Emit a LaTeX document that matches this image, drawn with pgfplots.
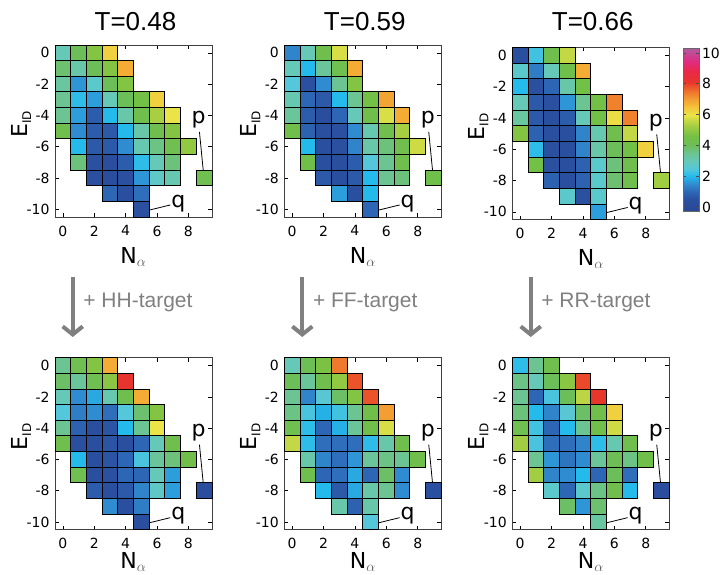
\documentclass[border=0pt]{standalone}
\usepackage{pgfplots}
\pgfplotsset{compat=1.18}
\usetikzlibrary{arrows.meta}
\usepackage{fontspec}
\setmainfont{Liberation Sans}
\newfontfamily\dv{DejaVu Sans}
\definecolor{arrgray}{RGB}{128,128,128}
\pgfplotsset{colormap={mymap}{
rgb255(0cm)=(40,70,150)
rgb255(0.8cm)=(43,80,160)
rgb255(1.3cm)=(45,102,180)
rgb255(1.8cm)=(48,140,208)
rgb255(2.3cm)=(36,186,236)
rgb255(2.8cm)=(84,199,218)
rgb255(3.3cm)=(102,201,184)
rgb255(3.8cm)=(108,196,146)
rgb255(4.3cm)=(108,190,88)
rgb255(4.9cm)=(116,192,68)
rgb255(5.6cm)=(168,207,66)
rgb255(6.3cm)=(234,228,72)
rgb255(6.8cm)=(245,194,58)
rgb255(7.3cm)=(243,158,50)
rgb255(7.8cm)=(238,112,44)
rgb255(8.4cm)=(232,54,42)
rgb255(9.1cm)=(233,40,74)
rgb255(9.7cm)=(226,42,126)
rgb255(10.6cm)=(176,92,160)
}}
\pgfplotsset{
  panel/.style={
    x=15.7pt, y=15.65pt,
    xmin=-0.5, xmax=9.5, ymin=-10.5, ymax=0.5,
    xtick={0,2,...,8}, ytick={-10,-8,...,0},
    tick align=inside, major tick length=4pt,
    tick style={black, line width=0.6pt},
    axis line style={line width=0.8pt, black!75},
    tick label style={font=\dv\fontsize{14}{16}\selectfont},
    xticklabel style={yshift=-5pt},
    yticklabel style={xshift=-2pt},
    /pgf/number format/assume math mode=true,
    xlabel={N{\color{black!65}$_{\alpha}$}},
    ylabel={E{\fontsize{12}{12}\selectfont\raisebox{-4pt}{ID}}},
    label style={font=\dv\fontsize{22}{24}\selectfont},
    xlabel style={at={([yshift=-46pt]axis description cs:0.5,0)}, anchor=base},
    ylabel style={at={([xshift=-28pt]axis description cs:0,0.54)}, anchor=base, rotate=0},
    colormap name=mymap, point meta min=-0.3, point meta max=10.3,
    anchor=north west,
  },
  lowpanel/.style={panel,
    xlabel style={at={([yshift=-39pt]axis description cs:0.5,0)}, anchor=base}},
  cells/.style={scatter, only marks, mark=square*, mark size=7.85pt,
    point meta=\thisrow{c},
    scatter/use mapped color={draw=black, fill=mapped color},
    mark options={line width=0.9pt}},
}
\newcommand{\pq}{%
  \node[font=\dv\fontsize{22}{24}\selectfont] at (axis cs:8.65,-4.3) {p};
  \draw[line width=0.8pt] (axis cs:8.7,-5.05) -- (axis cs:9.0,-8.1);
  \node[font=\dv\fontsize{22}{24}\selectfont] at (axis cs:7.35,-9.62) {q};
  \draw[line width=0.8pt] (axis cs:5.1,-10.15) -- (axis cs:6.85,-9.72);
}
\begin{document}
\begin{tikzpicture}
\useasboundingbox (0,0) rectangle (720pt,575pt);

% titles
\node[anchor=base, font=\fontsize{26}{28}\selectfont] at (135.5pt,544.3pt) {T=0.48};
\node[anchor=base, font=\fontsize{26}{28}\selectfont] at (364.8pt,544.3pt) {T=0.59};
\node[anchor=base, font=\fontsize{26}{28}\selectfont] at (592.7pt,544.3pt) {T=0.66};

% arrows
\foreach \ax/\lab in {72.7/HH, 302.3/FF, 530.7/RR}{
  \draw[arrgray, line width=4pt, -{Straight Barb[length=8pt,width=20pt]}] (\ax pt,298pt) -- (\ax pt,238pt);
  \node[anchor=base west, text=arrgray, font=\fontsize{21}{23}\selectfont, inner sep=0pt] at ({\ax pt+10.5pt},267pt) {+ \lab-target};
}

% ---------- T=0.48
\begin{axis}[panel, at={(55pt,530pt)}]
\addplot[cells] table{
x y c
0 0 3.0
1 0 4.0
2 0 4.8
3 0 6.3
0 -1 3.8
1 -1 3.2
2 -1 4.0
3 -1 4.8
4 -1 6.8
0 -2 3.3
1 -2 1.6
2 -2 2.7
3 -2 4.0
4 -2 4.8
0 -3 3.5
1 -3 2.1
2 -3 1.7
3 -3 3.0
4 -3 4.0
5 -3 4.5
6 -3 6.3
0 -4 3.5
1 -4 1.7
2 -4 0.8
3 -4 2.0
4 -4 3.2
5 -4 4.3
6 -4 5.3
7 -4 6.0
0 -5 4.3
1 -5 1.5
2 -5 0.8
3 -5 0.7
4 -5 2.0
5 -5 3.2
6 -5 4.3
7 -5 4.8
1 -6 2.0
2 -6 0.7
3 -6 0.7
4 -6 1.5
5 -6 3.1
6 -6 3.6
7 -6 4.2
8 -6 5.0
1 -7 3.7
2 -7 0.5
3 -7 0.3
4 -7 0.8
5 -7 2.1
6 -7 3.0
7 -7 3.7
2 -8 0.5
3 -8 0.3
4 -8 0.5
5 -8 1.6
6 -8 2.8
7 -8 3.1
9 -8 4.2
3 -9 1.0
4 -9 0.4
5 -9 1.1
5 -10 0.5
};
\pq
\end{axis}

% ---------- T=0.59
\begin{axis}[panel, at={(284.3pt,530pt)}]
\addplot[cells] table{
x y c
0 0 1.4
1 0 3.0
2 0 4.3
3 0 5.8
0 -1 3.0
1 -1 2.0
2 -1 3.4
3 -1 4.2
4 -1 6.8
0 -2 2.5
1 -2 0.5
2 -2 1.5
3 -2 3.5
4 -2 4.8
0 -3 3.1
1 -3 1.0
2 -3 0.7
3 -3 2.0
4 -3 3.5
5 -3 4.5
6 -3 6.9
0 -4 3.4
1 -4 0.8
2 -4 0.3
3 -4 1.0
4 -4 3.0
5 -4 4.4
6 -4 5.8
7 -4 6.8
0 -5 4.4
1 -5 0.9
2 -5 0.4
3 -5 0.5
4 -5 1.5
5 -5 3.1
6 -5 4.3
7 -5 5.3
1 -6 2.0
2 -6 0.4
3 -6 0.5
4 -6 1.4
5 -6 3.2
6 -6 3.7
7 -6 4.3
8 -6 5.7
1 -7 4.4
2 -7 0.4
3 -7 0.4
4 -7 0.8
5 -7 2.5
6 -7 3.5
7 -7 4.3
2 -8 0.7
3 -8 0.4
4 -8 0.7
5 -8 2.0
6 -8 3.5
7 -8 3.7
9 -8 4.4
3 -9 1.7
4 -9 0.4
5 -9 2.0
5 -10 1.0
};
\pq
\end{axis}

% ---------- T=0.66
\begin{axis}[panel, at={(512.3pt,527.5pt)}]
\addplot[cells] table{
x y c
0 0 0.4
1 0 2.3
2 0 4.3
3 0 5.6
0 -1 2.7
1 -1 1.3
2 -1 3.0
3 -1 4.4
4 -1 6.8
0 -2 2.0
1 -2 0.5
2 -2 1.0
3 -2 3.2
4 -2 4.5
0 -3 3.0
1 -3 0.7
2 -3 0.5
3 -3 1.6
4 -3 3.5
5 -3 4.5
6 -3 7.3
0 -4 3.3
1 -4 0.7
2 -4 0.4
3 -4 0.8
4 -4 3.0
5 -4 4.5
6 -4 6.1
7 -4 7.3
0 -5 4.8
1 -5 0.9
2 -5 0.4
3 -5 0.4
4 -5 1.4
5 -5 3.1
6 -5 4.3
7 -5 5.6
1 -6 2.1
2 -6 0.5
3 -6 0.4
4 -6 1.4
5 -6 3.2
6 -6 4.0
7 -6 4.5
8 -6 6.3
1 -7 4.5
2 -7 0.5
3 -7 0.4
4 -7 0.9
5 -7 2.7
6 -7 3.7
7 -7 4.3
2 -8 0.9
3 -8 0.4
4 -8 0.9
5 -8 2.7
6 -8 3.8
7 -8 4.3
9 -8 5.2
3 -9 2.7
4 -9 0.5
5 -9 2.7
5 -10 1.7
};
\pq
\end{axis}

% ---------- colour bar
\begin{axis}[at={(683pt,526.7pt)}, anchor=north west,
  width=16pt, height=163.4pt, scale only axis,
  xmin=0, xmax=1, ymin=-0.3, ymax=10.3, enlargelimits=false,
  xtick=\empty, ytick={0,2,...,10}, yticklabel pos=right, ytick pos=both,
  tick align=inside, major tick length=3pt,
  tick style={black!70, line width=0.6pt},
  axis line style={line width=0.6pt, black!60},
  yticklabel style={font=\dv\fontsize{14}{16}\selectfont, xshift=-0.5pt},
  /pgf/number format/assume math mode=true,
  colormap name=mymap, point meta min=-0.3, point meta max=10.3,
  axis on top]
\addplot[surf, shader=interp, mesh/cols=2, point meta=y] coordinates {
(0,-0.3) (1,-0.3)
(0,0.5) (1,0.5)
(0,1.0) (1,1.0)
(0,1.5) (1,1.5)
(0,2.0) (1,2.0)
(0,2.5) (1,2.5)
(0,3.0) (1,3.0)
(0,3.5) (1,3.5)
(0,4.0) (1,4.0)
(0,4.6) (1,4.6)
(0,5.3) (1,5.3)
(0,6.0) (1,6.0)
(0,6.5) (1,6.5)
(0,7.0) (1,7.0)
(0,7.5) (1,7.5)
(0,8.1) (1,8.1)
(0,8.8) (1,8.8)
(0,9.4) (1,9.4)
(0,10.3) (1,10.3)
};
\end{axis}

% ---------- HH
\begin{axis}[lowpanel, at={(55pt,217.3pt)}]
\addplot[cells] table{
x y c
0 0 3.5
1 0 4.2
2 0 4.8
3 0 6.8
0 -1 3.9
1 -1 3.4
2 -1 4.2
3 -1 4.9
4 -1 8.2
0 -2 3.0
1 -2 1.5
2 -2 1.8
3 -2 3.1
4 -2 4.3
5 -2 6.8
0 -3 2.5
1 -3 1.3
2 -3 1.5
3 -3 1.1
4 -3 2.5
5 -3 3.8
6 -3 4.8
0 -4 3.5
1 -4 0.9
2 -4 0.4
3 -4 0.6
4 -4 2.0
5 -4 3.5
6 -4 6.0
0 -5 4.3
1 -5 0.4
2 -5 0.4
3 -5 0.6
4 -5 0.4
5 -5 1.0
6 -5 3.0
7 -5 4.3
1 -6 2.0
2 -6 0.4
3 -6 0.6
4 -6 1.0
5 -6 2.4
6 -6 3.4
7 -6 3.7
8 -6 4.4
1 -7 4.2
2 -7 0.4
3 -7 0.5
4 -7 1.0
5 -7 1.0
6 -7 3.0
7 -7 1.7
2 -8 0.8
3 -8 0.4
4 -8 0.7
5 -8 1.4
6 -8 2.8
7 -8 1.7
9 -8 0.3
3 -9 1.5
4 -9 0.4
5 -9 1.3
5 -10 0.4
};
\pq
\end{axis}

% ---------- FF
\begin{axis}[lowpanel, at={(284.3pt,217.3pt)}]
\addplot[cells] table{
x y c
0 0 3.0
1 0 4.1
2 0 4.7
3 0 7.4
0 -1 4.0
1 -1 3.4
2 -1 4.3
3 -1 5.0
4 -1 7.8
0 -2 3.5
1 -2 1.4
2 -2 2.6
3 -2 3.9
4 -2 4.8
5 -2 7.8
0 -3 3.6
1 -3 2.4
2 -3 1.9
3 -3 2.3
4 -3 3.5
5 -3 4.4
6 -3 7.0
0 -4 4.2
1 -4 2.1
2 -4 1.0
3 -4 1.9
4 -4 3.4
5 -4 4.4
6 -4 5.8
0 -5 5.6
1 -5 2.1
2 -5 1.1
3 -5 1.1
4 -5 1.1
5 -5 2.1
6 -5 3.2
7 -5 4.3
1 -6 3.2
2 -6 1.4
3 -6 1.1
4 -6 1.6
5 -6 3.4
6 -6 3.6
7 -6 3.5
8 -6 4.4
1 -7 4.3
2 -7 1.0
3 -7 1.1
4 -7 1.8
5 -7 1.0
6 -7 3.9
7 -7 1.5
2 -8 2.0
3 -8 0.7
4 -8 1.8
5 -8 3.2
6 -8 3.5
7 -8 1.5
9 -8 0.4
3 -9 3.2
4 -9 0.9
5 -9 3.2
5 -10 2.5
};
\pq
\end{axis}

% ---------- RR
\begin{axis}[lowpanel, at={(512.3pt,217.3pt)}]
\addplot[cells] table{
x y c
0 0 2.1
1 0 3.5
2 0 4.3
0 -1 3.6
1 -1 3.0
2 -1 4.0
3 -1 4.9
4 -1 7.9
0 -2 3.5
1 -2 1.0
2 -2 2.4
3 -2 4.0
4 -2 5.5
5 -2 8.1
0 -3 3.7
1 -3 2.0
2 -3 1.4
3 -3 2.6
4 -3 3.9
5 -3 4.4
6 -3 6.3
0 -4 4.2
1 -4 2.3
2 -4 1.0
3 -4 2.0
4 -4 3.5
5 -4 4.4
6 -4 5.7
0 -5 5.2
1 -5 2.4
2 -5 1.1
3 -5 1.1
4 -5 1.4
5 -5 2.1
6 -5 3.1
7 -5 4.3
1 -6 3.5
2 -6 1.6
3 -6 1.2
4 -6 1.5
5 -6 3.4
6 -6 4.1
7 -6 3.6
8 -6 4.4
1 -7 5.2
2 -7 1.4
3 -7 1.5
4 -7 2.0
5 -7 1.0
6 -7 4.0
7 -7 1.1
2 -8 2.7
3 -8 1.0
4 -8 2.7
5 -8 3.6
6 -8 4.3
7 -8 2.0
9 -8 0.3
3 -9 3.9
4 -9 1.6
5 -9 3.8
5 -10 3.3
};
\pq
\end{axis}
\end{tikzpicture}
\end{document}
